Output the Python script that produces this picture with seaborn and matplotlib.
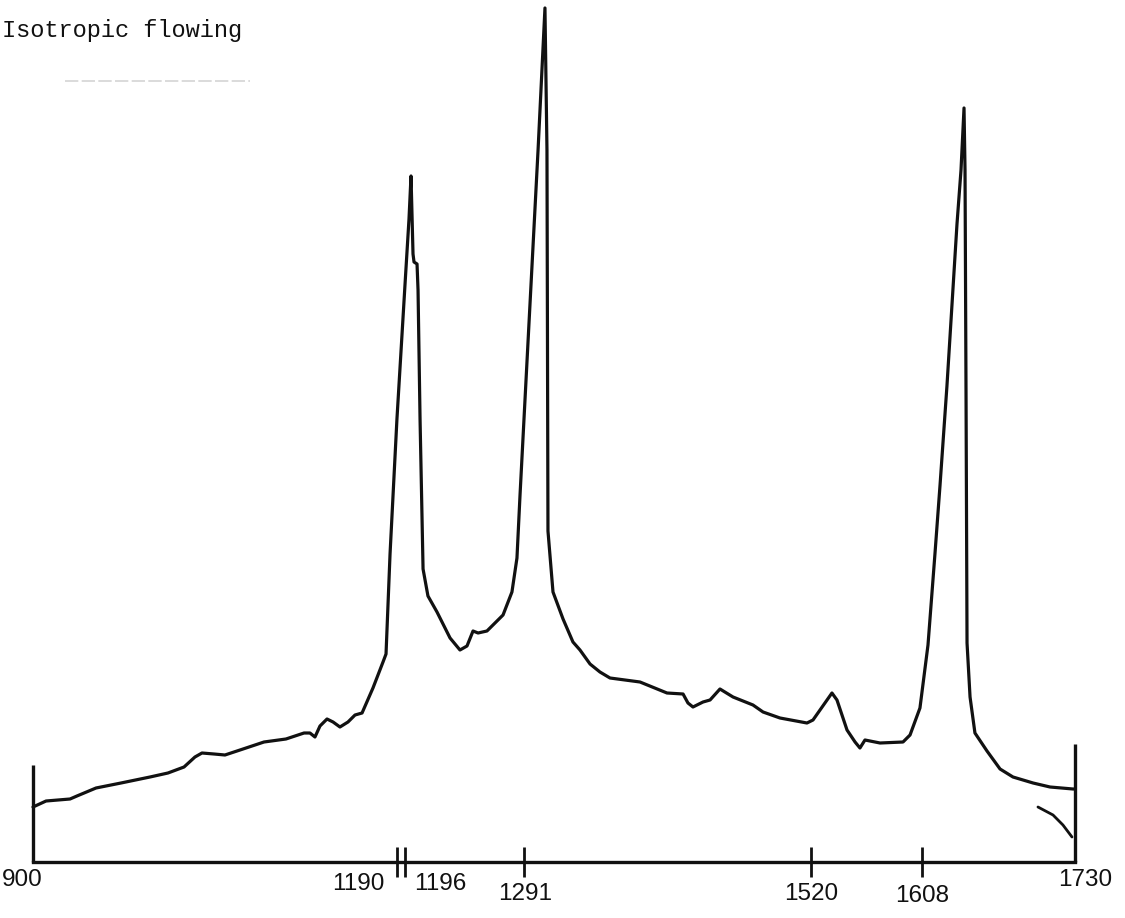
import matplotlib
matplotlib.use("Agg")
import matplotlib.pyplot as plt
import pandas as pd
import seaborn as sns

# spectrum (wavenumber, height above baseline)
wavenumber = [900.0, 910.4, 929.5, 935.0, 950.2, 970.1, 993.2, 1007.5, 1020.3, 1029.0,
              1034.6, 1044.2, 1052.9, 1067.3, 1084.0, 1101.5, 1115.9, 1120.6, 1124.6, 1128.6,
              1134.2, 1139.0, 1144.5, 1150.9, 1156.5, 1162.1, 1170.8, 1178.8, 1181.2, 1184.4,
              1189.9, 1196.3, 1199.5, 1201.1, 1202.7, 1203.5, 1205.9, 1206.7, 1208.3, 1210.7,
              1214.6, 1221.8, 1232.2, 1240.1, 1245.7, 1250.5, 1254.5, 1261.6, 1274.4, 1281.5,
              1285.5, 1287.9, 1294.3, 1302.3, 1305.4, 1307.8, 1309.4, 1310.2, 1314.2, 1322.2,
              1330.1, 1335.7, 1343.7, 1351.6, 1359.6, 1383.5, 1405.0, 1417.8, 1421.7, 1425.7,
              1433.7, 1439.3, 1447.2, 1457.6, 1473.5, 1481.5, 1495.0, 1516.5, 1521.3, 1536.4,
              1540.4, 1548.4, 1554.8, 1558.7, 1562.7, 1574.7, 1593.0, 1598.6, 1606.5, 1612.9,
              1618.5, 1622.5, 1628.0, 1632.0, 1636.0, 1639.2, 1641.6, 1642.4, 1643.2, 1644.0,
              1646.4, 1650.3, 1659.9, 1670.3, 1680.6, 1696.6, 1710.1, 1728.4, 1730.0]
intensity = [55, 61, 63, 66, 74, 79, 85, 89, 95, 105,
             109, 108, 107, 113, 120, 123, 129, 129, 125, 136,
             143, 140, 135, 140, 147, 149, 174, 200, 208, 308,
             443, 577, 643, 686, 608, 600, 598, 572, 443, 293,
             266, 250, 224, 212, 216, 231, 229, 231, 247, 270,
             304, 366, 520, 712, 792, 854, 712, 331, 270, 243,
             220, 212, 198, 190, 184, 180, 169, 168, 159, 155,
             160, 162, 173, 165, 157, 150, 144, 139, 142, 169,
             162, 132, 120, 114, 122, 119, 120, 127, 154, 217,
             309, 377, 476, 557, 638, 692, 754, 692, 467, 219,
             165, 129, 111, 93, 85, 79, 75, 73, 73]

# small pen stroke near the right end
hook_wn = [1700.5, 1712.5, 1720.4, 1727.6]
hook_int = [55, 47, 37, 25]

tick_values = [1190, 1196, 1291, 1520, 1608]
axis_labels = ["900", "1190", "1196", "1291", "1520", "1608", "1730"]
label_at = [900, 1190, 1196, 1291, 1520, 1608, 1730]
left_bar = 97
right_bar = 118

sns.set_theme(style="white")
ink = "#111111"

fig = plt.figure(figsize=(11.25, 9.18), dpi=100)
ax = fig.add_axes([33 / 1125, 56 / 918, 1042 / 1125, 862 / 918])

spec = pd.DataFrame({"wavenumber": wavenumber, "intensity": intensity})
sns.lineplot(data=spec, x="wavenumber", y="intensity", ax=ax, color=ink,
             linewidth=2.3, estimator=None, sort=False, clip_on=False)
ax.plot(hook_wn, hook_int, color=ink, linewidth=2.0, clip_on=False)

# end bars of the hand drawn frame
ax.vlines([900], 0, left_bar, color=ink, linewidth=2.4, clip_on=False)
ax.vlines([1730], 0, right_bar, color=ink, linewidth=2.4, clip_on=False)

ax.set_xlim(900, 1730)
ax.set_ylim(0, 862)
ax.set_yticks([])
ax.set_xticks(tick_values, labels=[""] * len(tick_values))
ax.tick_params(axis="x", direction="inout", length=22, width=2.0, color=ink, bottom=True)
ax.set_xlabel("")
ax.set_ylabel("")
for side in ["top", "left", "right"]:
    ax.spines[side].set_visible(False)
ax.spines["bottom"].set_color(ink)
ax.spines["bottom"].set_linewidth(2.4)

# handwritten numbers under the axis
offsets = [(-31, -18, "left"), (-13, -22, "right"), (10, -22, "left"), (1, -32, "center"),
           (0, -32, "center"), (0, -34, "center"), (10, -18, "center")]
for val, txt, (dx, dy, ha) in zip(label_at, axis_labels, offsets):
    ax.annotate(txt, xy=(val, 0), xycoords=("data", "axes fraction"),
                xytext=(dx, dy), textcoords="offset pixels", ha=ha, va="center",
                fontsize=17.5, color=ink, family=["Liberation Sans", "DejaVu Sans"],
                annotation_clip=False)

fig.text(2 / 1125, 1 - 37 / 918, "Isotropic flowing", family=["Liberation Mono", "DejaVu Sans Mono"],
         fontsize=17, color=ink, ha="left", va="baseline")
fig.add_artist(plt.Line2D([65 / 1125, 250 / 1125], [1 - 81 / 918, 1 - 81 / 918],
                          color="#d4d4d4", linewidth=1.2, linestyle=(0, (8, 2))))

fig.savefig("out.png", dpi=100)
